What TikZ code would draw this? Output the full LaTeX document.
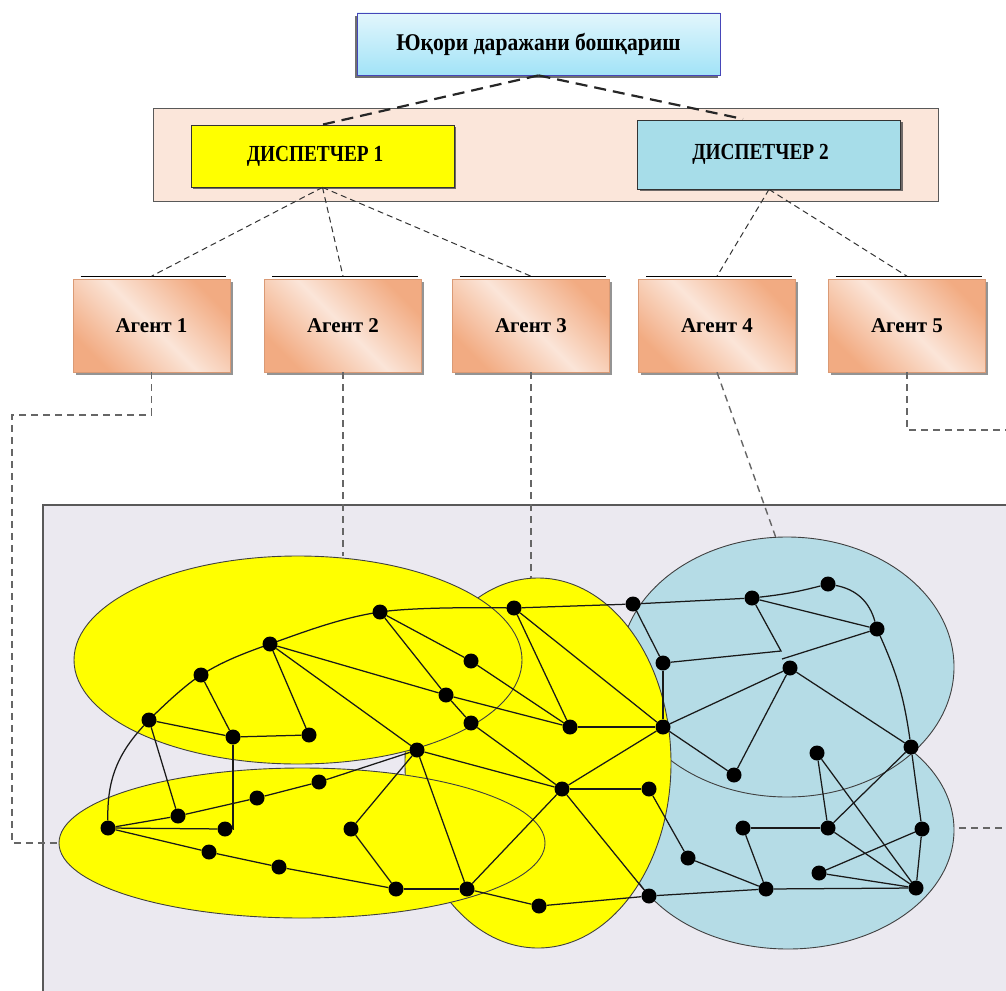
\documentclass[tikz,border=0pt]{standalone}
\usepackage{fontspec}
\setmainfont{Liberation Serif}
\newfontfamily\condfont{Liberation Serif}[FakeStretch=0.9]
\newfontfamily\narrowfont{Liberation Serif}[FakeStretch=0.84]
\usetikzlibrary{shapes.geometric,shadows}
\definecolor{contfill}{HTML}{EBE9F0}
\definecolor{ylw}{HTML}{FFFF00}
\definecolor{blu}{HTML}{B5DCE6}
\definecolor{peach}{HTML}{FBE6DA}
\definecolor{d2fill}{HTML}{A7DDE9}
\definecolor{topA}{HTML}{E2F6FC}
\definecolor{topB}{HTML}{A2E3F7}
\definecolor{agDark}{HTML}{F2AB82}
\definecolor{agLight}{HTML}{FBE5D8}
\pgfdeclarelayer{bg}
\pgfdeclarelayer{mid}
\pgfsetlayers{bg,mid,main}
\begin{document}
\begin{tikzpicture}[x=1pt,y=-1pt,
  dot/.style={circle,fill=black,inner sep=0pt,minimum size=15pt},
  edge/.style={line width=1.25pt,draw=black!90},
  ell/.style={ellipse,draw=black!75,line width=0.9pt,inner sep=0pt},
  topbox/.style={draw=blue!45!gray,line width=0.8pt,top color=topA,bottom color=topB,
     minimum width=363pt,minimum height=62pt,inner sep=0pt,
     font=\condfont\fontsize{24}{26}\selectfont\bfseries,
     drop shadow={shadow xshift=-2pt,shadow yshift=-3pt,fill=black!70,opacity=0.8}},
  outerbox/.style={draw=black!65,line width=1pt,fill=peach,minimum width=785pt,minimum height=93pt,inner sep=0pt},
  dispbox/.style={draw=black!80,line width=0.8pt,minimum width=263pt,inner sep=0pt,
     font=\narrowfont\fontsize{23}{26}\selectfont\bfseries,
     drop shadow={shadow xshift=2pt,shadow yshift=-2pt,fill=black!70,opacity=0.8}},
  agent/.style={draw=agDark!90!black,line width=0.6pt,top color=agDark,bottom color=agDark,middle color=agLight,
     shading angle=-45,minimum width=157pt,minimum height=93pt,inner sep=0pt,
     font=\fontsize{21}{24}\selectfont\bfseries,
     drop shadow={shadow xshift=2.5pt,shadow yshift=-3pt,fill=black!60,opacity=0.7}},
  topdash/.style={line width=2.2pt,draw=black!85,dash pattern=on 12pt off 7pt},
  dispdash/.style={line width=1pt,draw=black!80,dash pattern=on 6pt off 4pt},
  agentdash/.style={line width=1.4pt,draw=black!60,dash pattern=on 7pt off 5pt}
]
\useasboundingbox (0,0) rectangle (1006,990);
\clip (0,0) rectangle (1006,990);

% ---------- upper hierarchy ----------
\node[topbox] (top) at (538.5,44) {Юқори даражани бошқариш};
\node[outerbox] (disp) at (545.5,154.5) {};
\node[dispbox,fill=ylw,minimum height=62pt] (d1) at (322.5,156) {\hspace*{-15pt}ДИСПЕТЧЕР 1};
\node[dispbox,fill=d2fill,minimum height=69pt] (d2) at (769,154.5) {\hspace*{-17pt}ДИСПЕТЧЕР 2};
\coordinate (d2in) at (743,119);

\node[agent] (a1) at (151.5,325.5) {Агент 1};
\node[agent] (a2) at (343,325.5) {Агент 2};
\node[agent] (a3) at (531,325.5) {Агент 3};
\node[agent] (a4) at (717,325.5) {Агент 4};
\node[agent] (a5) at (907,325.5) {Агент 5};
\foreach \a in {a1,a2,a3,a4,a5}
  \draw[line width=1.3pt] ([xshift=8pt,yshift=2.5pt]\a.north west) -- ([xshift=-4pt,yshift=2.5pt]\a.north east);

\draw[topdash] (top.south) -- (d1.north);
\draw[topdash] (top.south) -- (d2in);
\foreach \a in {a1,a2,a3} \draw[dispdash] (d1.south) -- ([yshift=2.5pt]\a.north);
\foreach \a in {a4,a5} \draw[dispdash] (d2.south) -- ([yshift=2.5pt]\a.north);

% ---------- network area ----------
\begin{pgfonlayer}{bg}
\draw[fill=contfill,draw=black!65,line width=1.5pt] (43,505) rectangle (1020,1005);
\node[ell,fill=blu,minimum width=332pt,minimum height=238pt] (e5) at (788,830) {};
\node[ell,fill=blu,minimum width=334pt,minimum height=260pt] (e4) at (787,667) {};
\node[ell,fill=ylw,minimum width=266pt,minimum height=370pt] (e3) at (538,763) {};
\node[ell,fill=ylw,minimum width=448pt,minimum height=208pt] (e1) at (298,660) {};
\node[ell,fill=ylw,minimum width=486pt,minimum height=150pt] (e2) at (302,843) {};
\end{pgfonlayer}

\node[dot] (n1) at (380,612) {};
\node[dot] (n2) at (270,644) {};
\node[dot] (n3) at (201,675) {};
\node[dot] (n4) at (149,720) {};
\node[dot] (n5) at (233,737) {};
\node[dot] (n6) at (309,735) {};
\node[dot] (n7) at (471,661) {};
\node[dot] (n8) at (446,695) {};
\node[dot] (n9) at (471,723) {};
\node[dot] (n10) at (417,750) {};
\node[dot] (n11) at (514,608) {};
\node[dot] (n12) at (570,727) {};
\node[dot] (n13) at (633,604) {};
\node[dot] (n14) at (663,727) {};
\node[dot] (m1) at (108,828) {};
\node[dot] (m2) at (178,816) {};
\node[dot] (m3) at (225,829) {};
\node[dot] (m4) at (257,798) {};
\node[dot] (m5) at (319,782) {};
\node[dot] (m6) at (351,829) {};
\node[dot] (m7) at (209,852) {};
\node[dot] (m8) at (279,867) {};
\node[dot] (m9) at (396,889) {};
\node[dot] (m10) at (467,889) {};
\node[dot] (m11) at (539,906) {};
\node[dot] (m12) at (562,789) {};
\node[dot] (m13) at (649,789) {};
\node[dot] (m14) at (649,896) {};
\node[dot] (r1) at (752,598) {};
\node[dot] (r2) at (828,584) {};
\node[dot] (r3) at (877,629) {};
\node[dot] (r4) at (663,663) {};
\node[dot] (r5) at (790,668) {};
\node[dot] (r6) at (734,775) {};
\node[dot] (r7) at (911,747) {};
\node[dot] (r8) at (817,753) {};
\node[dot] (r9) at (743,828) {};
\node[dot] (r10) at (828,828) {};
\node[dot] (r11) at (922,829) {};
\node[dot] (r12) at (688,858) {};
\node[dot] (r13) at (819,873) {};
\node[dot] (r14) at (766,889) {};
\node[dot] (r15) at (916,888) {};
\coordinate (k1) at (781,651);
\coordinate (k2) at (782,659);

\begin{pgfonlayer}{mid}
\draw[edge] plot[smooth,tension=0.6] coordinates {(n4.center) (n3.center) (n2.center) (n1.center) (n11.center)};
\foreach \a/\b in {n11/n13,n3/n5,n4/n5,n5/n6,n2/n6,n2/n8,n2/n10,n1/n7,n1/n8,n8/n9,
   n7/n12,n8/n12,n11/n12,n11/n14,n12/n14,n13/r4,r4/n14,n13/r1,n4/m2,
   m1/m2,m2/m4,m4/m5,m5/n10,m1/m3,m1/m7,m7/m8,m8/m9,m6/n10,m6/m9,m9/m10,m10/m11,m11/m14,
   m10/n10,m10/m12,n10/m12,n9/m12,m12/m13,m12/n14,m12/m14,m13/r12,m14/r14,
   n14/r5,n14/r6,r5/r6,r5/r7,r1/r3,r7/r11,r7/r10,r8/r10,r8/r15,r9/r10,r9/r14,
   r10/r15,r11/r13,r13/r15,r11/r15,r12/r14,r14/r15}
  \draw[edge] (\a) -- (\b);
\draw[edge] (n4) to[bend right=22] (m1);
\draw[edge] (n5) -- (n5 |- m3) -- (m3);
\draw[edge] (r1) to[bend right=4] (r2);
\draw[edge] (r2) to[bend left=32] (r3);
\draw[edge] (r3) to[bend left=8] (r7);
\draw[edge] (r1) -- (k1) -- (r4);
\draw[edge] (r3) -- (k2);
\end{pgfonlayer}

% ---------- agent links to network ----------
\coordinate (w1) at (57,843);
\coordinate (w5) at (1012,430);
\coordinate (w6) at (959,828);
\coordinate (w7) at (1012,828);
\draw[agentdash] (a1.south) |- (12,415) -- (12,843) -- (w1);
\draw[agentdash] (a2.south) -- (a2.south |- e1.north);
\draw[agentdash] (a3.south) -- (a3.south |- e3.north);
\draw[agentdash] (a4.south) -- (e4.95);
\draw[agentdash] (a5.south) |- (w5);
\draw[agentdash] (w6) -- (w7);
\end{tikzpicture}
\end{document}
